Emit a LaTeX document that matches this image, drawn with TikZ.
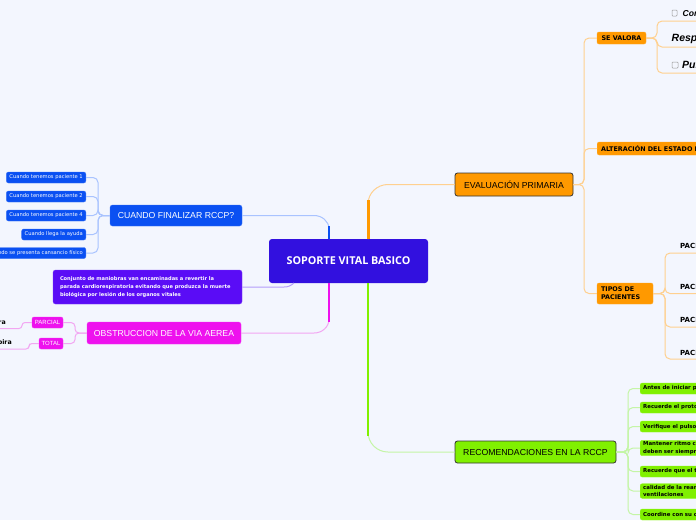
\documentclass[tikz,border=0pt]{standalone}
\usepackage{fontspec}
\setmainfont{DejaVu Sans}
\newfontfamily\osans{Open Sans}
\newfontfamily\lsans{Liberation Sans}
\definecolor{bg}{HTML}{F3F6FE}
\definecolor{cCen}{HTML}{3210DF}
\definecolor{cBlue}{HTML}{0A50F2}
\definecolor{cBlueL}{HTML}{A9C3FF}
\definecolor{cPur}{HTML}{5A0CF6}
\definecolor{cPurL}{HTML}{B49CFA}
\definecolor{cMag}{HTML}{EE11EE}
\definecolor{cMagL}{HTML}{F2A6F2}
\definecolor{cOra}{HTML}{FF9900}
\definecolor{cOraL}{HTML}{FFD08F}
\definecolor{cGre}{HTML}{80F000}
\definecolor{cGreL}{HTML}{C4F5A6}
\definecolor{cDark}{HTML}{333333}
\tikzset{
  box/.style={rounded corners=2.5pt, inner sep=0pt, align=center},
  mainlbl/.style={box, font=\lsans\fontsize{8.7}{10}\selectfont},
  bluechild/.style={rounded corners=2pt, fill=cBlue, draw=cBlue!80!white, text=white, inner xsep=3pt, inner ysep=0pt, minimum height=11pt, anchor=east, font=\fontsize{5.2}{6}\selectfont},
  grebox/.style={rounded corners=2pt, fill=cGre, draw=cGre!85!white, text=black, inner xsep=3pt, inner ysep=1.5pt, minimum height=11pt, anchor=west, align=left, font=\bfseries\fontsize{5.4}{7.2}\selectfont},
  orabox/.style={rounded corners=2pt, fill=cOra, draw=cOra!85!white, text=black, inner xsep=4pt, inner ysep=0pt, font=\bfseries\fontsize{6.4}{8}\selectfont},
  magbox/.style={rounded corners=2pt, fill=cMag, draw=cMag!85!white, text=white, inner sep=0pt, font=\lsans\fontsize{6}{7}\selectfont},
  pactext/.style={anchor=west, inner sep=0pt, font=\bfseries\fontsize{7}{8}\selectfont},
  bl/.style={cBlueL, line width=1pt, rounded corners=5pt},
  ol/.style={cOraL, line width=1pt, rounded corners=5pt},
  gl/.style={cGreL, line width=1pt, rounded corners=5pt},
  ml/.style={cMagL, line width=1pt, rounded corners=4pt},
}
\begin{document}
\begin{tikzpicture}[x=1pt,y=-1pt]
\useasboundingbox (0,0) rectangle (696,520);
\fill[bg] (0,0) rectangle (696,520);
\clip (0,0) rectangle (696,520);

% ---------- main nodes ----------
\node[box, fill=cCen, text=white, minimum width=159pt, minimum height=44pt, rounded corners=3pt, font=\osans\bfseries\fontsize{10.8}{13}\selectfont] (c) at (348.5,261) {SOPORTE VITAL BASICO};
\node[mainlbl, fill=cOra, draw=cDark, line width=0.8pt, minimum width=118pt, minimum height=23pt] (ev) at (514,184.5) {EVALUACIÓN PRIMARIA};
\node[mainlbl, fill=cGre, draw=cDark, line width=0.8pt, minimum width=161pt, minimum height=22pt] (rec) at (535.5,452) {RECOMENDACIONES EN LA RCCP};
\node[mainlbl, fill=cBlue, draw=cBlue!80!white, text=white, minimum width=132pt, minimum height=21pt] (cf) at (176,215.5) {CUANDO FINALIZAR RCCP?};
\node[box, fill=cPur, draw=cPur!80!white, text=white, minimum width=189pt, minimum height=34pt, text width=175pt, align=left, font=\bfseries\fontsize{5.1}{7.8}\selectfont] (conj) at (147.5,287) {Conjunto de maniobras van encaminadas a revertir la\\parada cardiorespiratoria evitando que produzca la muerte\\biológica por lesión de los organos vitales};
\node[mainlbl, fill=cMag, draw=cMag!85!white, text=white, minimum width=154pt, minimum height=22pt] (obs) at (164,333) {OBSTRUCCION DE LA VIA AEREA};

% ---------- central connectors ----------
\draw[cBlueL, line width=1pt] (cf.east) -- (314,215.5) to[out=0,in=90] (329,229) -- (329,239);
\draw[cBlue, line width=2.6pt] (329,226) -- (329,239);
\draw[cOraL, line width=1pt] (ev.west) -- (388,184.5) to[out=180,in=90] (368,204) -- (368,239);
\draw[cOra, line width=3pt] (368,200) -- (368,239);
\draw[cGreL, line width=1pt] (rec.west) -- (388,452) to[out=180,in=-90] (368,432) -- (368,283);
\draw[cGre, line width=2.2pt] (368,283) -- (368,436);
\draw[cMagL, line width=1pt] (obs.east) -- (314,333) to[out=0,in=-90] (329,319) -- (329,283);
\draw[cMag, line width=2.8pt] (329,283) -- (329,322);
\draw[cPurL, line width=1pt] (conj.east) -- (284,287) to[out=0,in=-140] (294,283);

% ---------- CUANDO FINALIZAR children ----------
\node[bluechild] (b1) at (86,177.5) {Cuando tenemos paciente 1};
\node[bluechild] (b2) at (86,196.5) {Cuando tenemos paciente 2};
\node[bluechild] (b3) at (86,215.5) {Cuando tenemos paciente 4};
\node[bluechild] (b4) at (86,234.5) {Cuando llega la ayuda};
\node[bluechild] (b5) at (86,253) {Cuando se presenta cansancio físico};
\foreach \b in {b1,b2,b3,b4,b5}{\draw[bl] (cf.west) -- (98,215.5) |- (\b.east);}

% ---------- OBSTRUCCION children ----------
\node[magbox, minimum width=31pt, minimum height=11pt] (parc) at (47.5,322.5) {PARCIAL};
\node[magbox, minimum width=24pt, minimum height=11pt] (tot) at (51,343.5) {TOTAL};
\draw[ml] (obs.west) -- (75,333) |- (parc.east);
\draw[ml] (obs.west) -- (75,333) |- (tot.east);
\node[anchor=east, inner sep=0pt, font=\bfseries\fontsize{6.3}{7}\selectfont] (tp) at (6,323) {Tose y respira};
\node[anchor=east, inner sep=0pt, font=\bfseries\fontsize{6.3}{7}\selectfont] (tt) at (12,343) {No respira};
\coordinate (up) at (-5,328.5);
\coordinate (ut) at (-5,349);
\draw[ml, rounded corners=3pt] (parc.west) -- (22,322.5) |- (up);
\draw[ml, rounded corners=3pt] (tot.west) -- (29,343.5) |- (ut);

% ---------- EVALUACION children ----------
\node[orabox, minimum width=49pt, minimum height=12pt] (sv) at (621.5,38) {SE VALORA};
\node[orabox, anchor=west, minimum height=13pt] (alt) at (597,148.5) {ALTERACIÓN DEL ESTADO DE CONCIENCIA};
\node[orabox, minimum width=56pt, minimum height=21pt, align=left, text width=48pt, font=\bfseries\fontsize{6.4}{8.2}\selectfont] (tip) at (625,293.5) {TIPOS DE\\PACIENTES};
\foreach \o in {sv,alt,tip}{\draw[ol] (ev.east) -- (584,184.5) |- (\o.west);}

% SE VALORA children
\draw[gray!80, line width=0.5pt, rounded corners=0.8pt] (672,10) rectangle (677,16);
\node[anchor=west, inner sep=0pt, font=\lsans\bfseries\itshape\fontsize{8.6}{9}\selectfont] (s1) at (682.5,13) {Conciencia};
\node[anchor=west, inner sep=0pt, font=\lsans\bfseries\itshape\fontsize{10.5}{11}\selectfont] (s2) at (671.5,39) {Respiración};
\draw[gray!80, line width=0.5pt, rounded corners=0.8pt] (672,62) rectangle (678,68);
\node[anchor=west, inner sep=0pt, font=\lsans\bfseries\itshape\fontsize{10.5}{11}\selectfont] (s3) at (682,65) {Pulso};
\coordinate (us1) at (705,21);
\coordinate (us2) at (705,47);
\coordinate (us3) at (705,73);
\foreach \u in {us1,us2,us3}{\draw[ol] (sv.east) -- (657,38) |- (\u);}

% TIPOS children
\node[pactext] (p1) at (680,246) {PACIENTE 1};
\node[pactext] (p2) at (680,287) {PACIENTE 2};
\node[pactext] (p3) at (680,320) {PACIENTE 3};
\node[pactext] (p4) at (680,353) {PACIENTE 4};
\coordinate (up1) at (705,253);
\coordinate (up2) at (705,293.5);
\coordinate (up3) at (705,327);
\coordinate (up4) at (705,359);
\foreach \u in {up1,up2,up3,up4}{\draw[ol] (tip.east) -- (665,293.5) |- (\u);}

% ---------- RECOMENDACIONES children ----------
\node[grebox] (g1) at (640,388.5) {Antes de iniciar procedimientos asegure la escena};
\node[grebox] (g2) at (640,407.5) {Recuerde el protocolo de seguridad};
\node[grebox] (g3) at (640,426.5) {Verifique el pulso carotídeo};
\node[grebox] (g4) at (640,448) {Mantener ritmo constante de compresiones\\deben ser siempre de calidad};
\node[grebox] (g5) at (640,471.5) {Recuerde que el tiempo es vital};
\node[grebox] (g6) at (640,491) {calidad de la reanimación, compresiones y\\ventilaciones};
\node[grebox] (g7) at (640,514.5) {Coordine con su compañero};
\foreach \g in {g1,g2,g3,g4,g5,g6,g7}{\draw[gl] (rec.east) -- (628,452) |- (\g.west);}
\end{tikzpicture}
\end{document}
